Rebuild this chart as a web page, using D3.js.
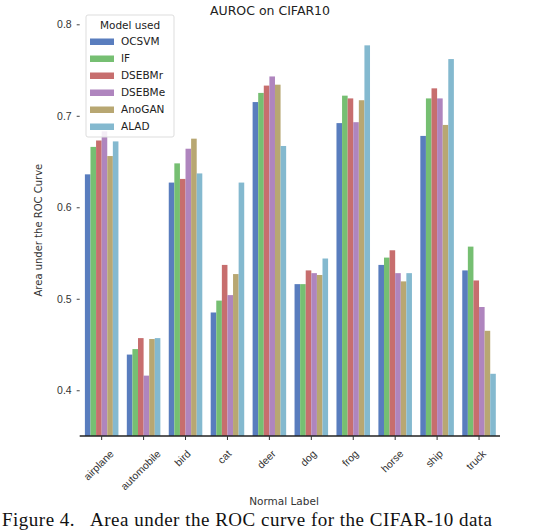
<!DOCTYPE html>
<html>
<head>
<meta charset="utf-8">
<script src="https://cdn.jsdelivr.net/npm/d3@7"></script>
<style>
  html, body { margin: 0; padding: 0; background: #fff; }
  svg { display: block; font-family: "DejaVu Sans", sans-serif; }
  .tick-label { fill: #333; font-size: 10.5px; }
  .caption { font-family: "Liberation Serif", serif; font-size: 19px; fill: #111; letter-spacing: 0.5px; }
</style>
</head>
<body>
<div id="chart"></div>
<script>
const categories = ['airplane', 'automobile', 'bird', 'cat', 'deer', 'dog', 'frog', 'horse', 'ship', 'truck'];
const models = ['OCSVM', 'IF', 'DSEBMr', 'DSEBMe', 'AnoGAN', 'ALAD'];
const modelColors = ['#4878CF', '#6ACC65', '#D65F5F', '#B47CC7', '#C4AD66', '#77BEDB'];
const yTicks = [0.4, 0.5, 0.6, 0.7, 0.8];

// one row per model, one value per category
const ocsvm  = [0.636, 0.439, 0.627, 0.485, 0.715, 0.516, 0.692, 0.537, 0.678, 0.531];
const iforest = [0.666, 0.445, 0.648, 0.498, 0.725, 0.516, 0.722, 0.545, 0.719, 0.557];
const dsebmr = [0.673, 0.457, 0.631, 0.537, 0.733, 0.531, 0.719, 0.553, 0.730, 0.520];
const dsebme = [0.683, 0.416, 0.664, 0.504, 0.743, 0.528, 0.693, 0.528, 0.719, 0.491];
const anogan = [0.656, 0.456, 0.675, 0.527, 0.734, 0.526, 0.717, 0.519, 0.690, 0.465];
const alad   = [0.672, 0.457, 0.637, 0.627, 0.667, 0.544, 0.777, 0.528, 0.762, 0.418];
const seriesValues = [ocsvm, iforest, dsebmr, dsebme, anogan, alad];

const width = 534, height = 530;
const margin = { top: 20, left: 80.7, right: 34, bottom: 94 };
const yMin = 0.35;

// seaborn barplot desaturates the palette (saturation 0.75)
const colors = modelColors.map((c) => { const h = d3.hsl(c); h.s *= 0.75; return h.formatHex(); });

const svg = d3.select('#chart').append('svg').attr('width', width).attr('height', height);

const x = d3.scaleBand().domain(categories).range([margin.left, width - margin.right]).paddingInner(0.2).paddingOuter(0.1);
const xInner = d3.scaleBand().domain(models).range([0, x.bandwidth()]);
const y = d3.scaleLinear().domain([yMin, 0.8]).range([height - margin.bottom, 24.3]);

const rows = [];
categories.forEach((cat, ci) => models.forEach((m, mi) => rows.push({ cat, model: m, mi, value: seriesValues[mi][ci] })));

svg.append('g').selectAll('rect').data(rows).enter().append('rect')
  .attr('x', (d) => x(d.cat) + xInner(d.model))
  .attr('width', xInner.bandwidth())
  .attr('y', (d) => y(d.value))
  .attr('height', (d) => y(yMin) - y(d.value))
  .attr('fill', (d) => colors[d.mi]);

// y axis: no spine, short ticks
const yAxis = svg.append('g').attr('transform', 'translate(' + (margin.left - 1) + ',0)')
  .call(d3.axisLeft(y).tickValues(yTicks).tickSize(3).tickPadding(5).tickFormat(d3.format('.1f')));
yAxis.select('.domain').remove();
yAxis.selectAll('line').attr('stroke', '#444');
yAxis.selectAll('text').attr('class', 'tick-label').style('font-size', '10.5px').attr('font-family', null);

// x axis: dark bottom spine
const xAxis = svg.append('g').attr('transform', 'translate(0,' + y(yMin) + ')')
  .call(d3.axisBottom(x).tickSize(4).tickSizeOuter(0));
xAxis.select('.domain').attr('stroke', '#222').attr('stroke-width', 1.6)
  .attr('d', 'M' + (margin.left - 1) + ',0H' + (width - margin.right));
xAxis.selectAll('.tick line').attr('stroke', '#333');
xAxis.selectAll('.tick text').each(function (d) {
  const t = d3.select(this).attr('class', 'tick-label').attr('font-family', null)
    .attr('y', 0).attr('dy', '0.35em').attr('text-anchor', 'middle');
  const len = this.getComputedTextLength();
  const half = (len + 11) * Math.SQRT1_2 / 2;
  t.attr('transform', 'translate(-3,' + (12 + half) + ') rotate(-45)');
});

svg.append('text').attr('x', 270).attr('y', 15).attr('text-anchor', 'middle')
  .style('font-size', '12.5px').attr('fill', '#222').text('AUROC on CIFAR10');

svg.append('text').attr('transform', 'translate(42,' + ((24.3 + y(yMin)) / 2) + ') rotate(-90)')
  .attr('text-anchor', 'middle').style('font-size', '10px').attr('fill', '#333').text('Area under the ROC Curve');

svg.append('text').attr('x', 284).attr('y', 505).attr('text-anchor', 'middle')
  .style('font-size', '10.5px').attr('fill', '#333').text('Normal Label');

// legend
const legend = svg.append('g').attr('transform', 'translate(86,15)');
legend.append('rect').attr('width', 88).attr('height', 122).attr('rx', 2)
  .attr('fill', '#fff').attr('fill-opacity', 0.85).attr('stroke', '#ddd');
legend.append('text').attr('x', 44).attr('y', 14).attr('text-anchor', 'middle')
  .style('font-size', '10.5px').attr('fill', '#222').text('Model used');
const entry = legend.selectAll('.entry').data(models).enter().append('g')
  .attr('transform', (d, i) => 'translate(0,' + (26.5 + i * 17) + ')');
entry.append('rect').attr('x', 4).attr('y', -3).attr('width', 24).attr('height', 6.5).attr('fill', (d, i) => colors[i]);
entry.append('text').attr('x', 35).attr('y', 0).attr('dy', '0.35em')
  .style('font-size', '10.5px').attr('fill', '#222').text((d) => d);

// figure caption at the bottom edge
svg.append('text').attr('class', 'caption').attr('x', 2).attr('y', 526).text('Figure 4.');
svg.append('text').attr('class', 'caption').attr('x', 90).attr('y', 526).text('Area under the ROC curve for the CIFAR-10 data');
</script>
</body>
</html>
